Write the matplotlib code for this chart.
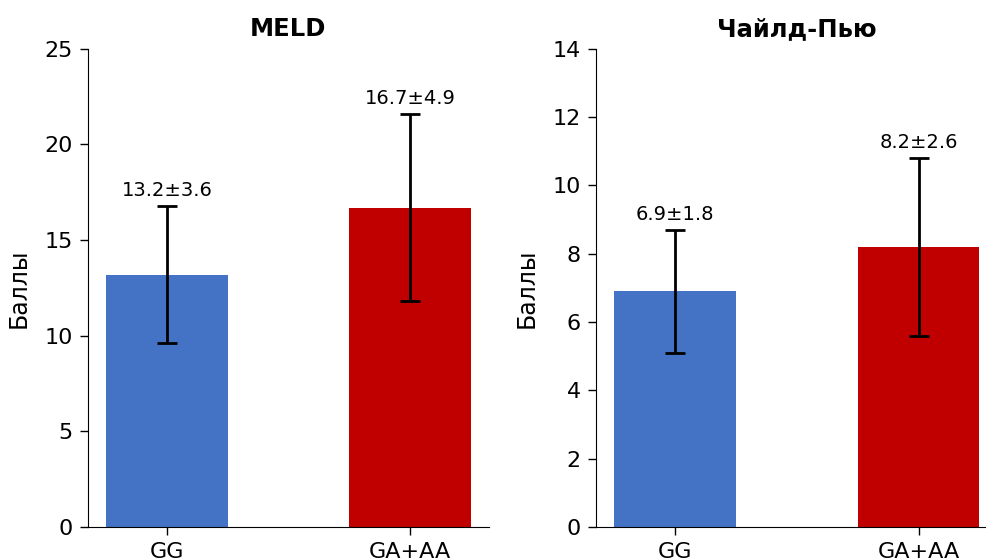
import matplotlib
matplotlib.use("Agg")
import matplotlib.pyplot as plt
import numpy as np

groups = ["GG", "GA+AA"]
meld_mean = [13.2, 16.7]
meld_sd = [3.6, 4.9]
cp_mean = [6.9, 8.2]
cp_sd = [1.8, 2.6]
titles = ["MELD", "Чайлд-Пью"]
ylims = [(0, 25), (0, 14)]
colors = ["#4472C4", "#C00000"]

fig = plt.figure(figsize=(9.87, 5.6), dpi=100)
ax1 = fig.add_axes([0.0892, 0.0589, 0.406, 0.854])
ax2 = fig.add_axes([0.6039, 0.0589, 0.407, 0.854])

x = np.arange(len(groups))
for ax, means, sds, title, yl in [(ax1, meld_mean, meld_sd, titles[0], ylims[0]),
                                  (ax2, cp_mean, cp_sd, titles[1], ylims[1])]:
    ax.bar(x, means, 0.5, color=colors)
    ax.errorbar(x, means, yerr=sds, fmt="none", ecolor="black",
                elinewidth=2, capsize=7, capthick=2)
    span = yl[1] - yl[0]
    for xi, m, s in zip(x, means, sds):
        ax.text(xi, m + s + span * 0.012, f"{m}±{s}", ha="center", va="bottom", fontsize=14)
    ax.set_xticks(x)
    ax.set_xticklabels(groups, fontsize=16)
    ax.set_ylim(*yl)
    ax.tick_params(axis="both", labelsize=16, length=6, width=1, pad=5)
    ax.set_ylabel("Баллы", fontsize=17, labelpad=10)
    ax.set_title(title, fontsize=17.5, fontweight="bold", pad=9)
    ax.spines["top"].set_visible(False)
    ax.spines["right"].set_visible(False)

fig.savefig("out.png", dpi=100)
